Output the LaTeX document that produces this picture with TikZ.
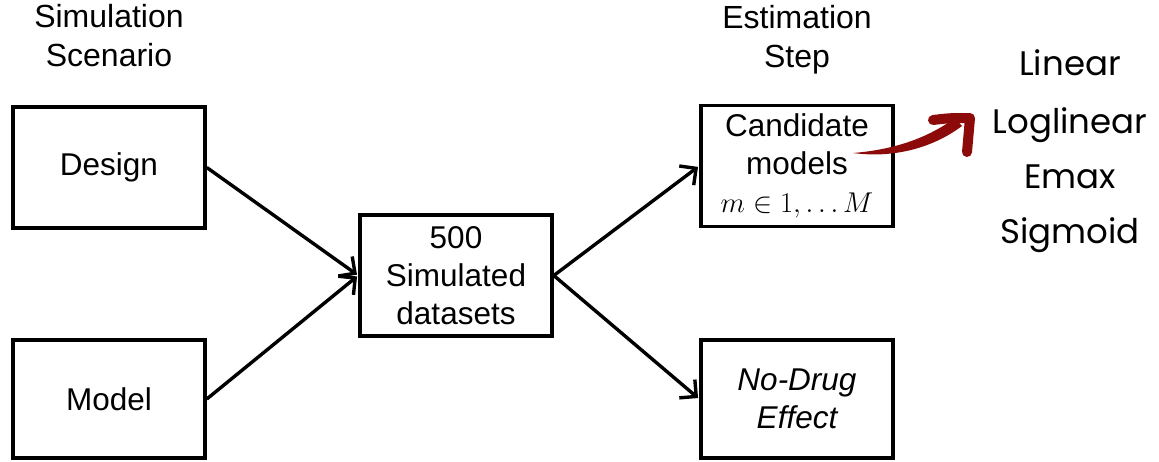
\documentclass[tikz,border=0pt]{standalone}
\usepackage{fontspec}
\setmainfont{Liberation Sans}
\newfontfamily\handfont{Poppins}
\usetikzlibrary{arrows.meta}
\definecolor{brush}{RGB}{140,10,10}
\begin{document}
\begin{tikzpicture}[x=1pt,y=-1pt,
  box/.style={draw, line width=3.6pt, minimum width=192pt, align=center, inner sep=0pt,
    font=\fontsize{31.5}{38}\selectfont},
  title/.style={align=center, font=\fontsize{32}{39}\selectfont},
  arr/.style={line width=3.4pt, -{Straight Barb[length=12pt,width=24pt,line width=3.4pt]}, shorten >=1.5pt},
  hand/.style={font=\handfont\fontsize{34}{40}\selectfont, anchor=base}
]
\useasboundingbox (0,0) rectangle (1159,461);
\node[title] (t1) at (109,36) {Simulation\\Scenario};
\node[title] (t2) at (797,40) {Estimation\\Step};
\node[box, minimum height=121pt] (design) at (109,167.5) {Design};
\node[box, minimum height=118pt] (model) at (109,399) {Model};
\node[box, minimum height=121pt] (sim) at (456,275.5) {500\\Simulated\\datasets};
\node[box, minimum height=121pt] (cand) at (797,166) {Candidate\\models\\\scalebox{1.15}{$m \in 1, \ldots M$}};
\node[box, minimum height=118pt] (nodrug) at (797,399) {\itshape No-Drug\\\itshape Effect};
\draw[arr] (design.east) -- (sim.west);
\draw[arr] (model.east) -- (sim.west);
\draw[arr] (sim.east) -- (cand.west);
\draw[arr] (sim.east) -- (nodrug.west);
% red brush arrow
\coordinate (rt) at (853,153);
\fill[brush] (rt) .. controls (890,150) and (925,140) .. (955,118)
  -- (962,126) .. controls (930,150) and (890,158) .. (rt) -- cycle;
\draw[brush, line width=10pt, line cap=round, line join=round]
  (933,120) .. controls (950,118) .. (970,118) .. controls (968,135) .. (967,152);
\node[hand] (lin) at (1070,75) {Linear};
\node[hand] (log) at (1070,133) {Loglinear};
\node[hand] (emax) at (1070,188) {Emax};
\node[hand] (sig) at (1070,243) {Sigmoid};
\end{tikzpicture}
\end{document}
